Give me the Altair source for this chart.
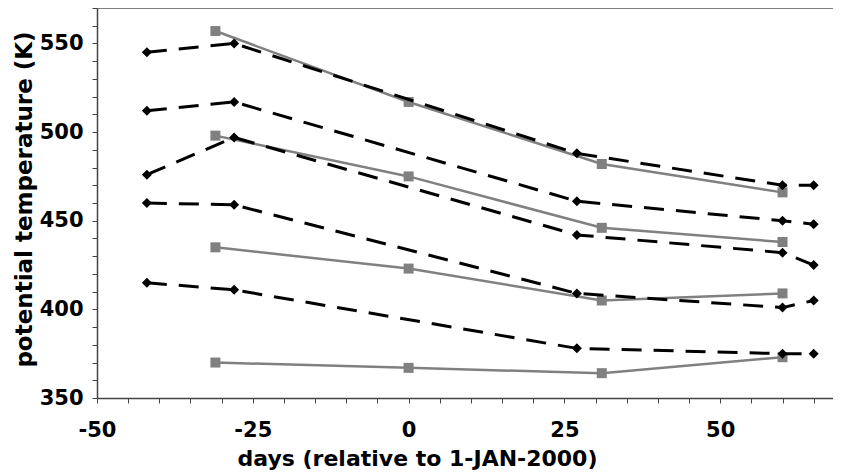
import altair as alt
import pandas as pd

# --- data ---
days_dashed = [-42, -28, 27, 60, 65]
dashed_series = {
    "d1": [545, 550, 488, 470, 470],
    "d2": [512, 517, 461, 450, 448],
    "d3": [476, 497, 442, 432, 425],
    "d4": [460, 459, 409, 401, 405],
    "d5": [415, 411, 378, 375, 375],
}
days_solid = [-31, 0, 31, 60]
solid_series = {
    "s1": [557, 517, 482, 466],
    "s2": [498, 475, 446, 438],
    "s3": [435, 423, 405, 409],
    "s4": [370, 367, 364, 373],
}
x_ticks = list(range(-50, 66, 5))
y_ticks = list(range(350, 571, 10))

rows = []
for name, vals in dashed_series.items():
    for d, v in zip(days_dashed, vals):
        rows.append({"series": name, "kind": "dashed", "day": d, "theta": v})
for name, vals in solid_series.items():
    for d, v in zip(days_solid, vals):
        rows.append({"series": name, "kind": "solid", "day": d, "theta": v})
df = pd.DataFrame(rows)

W, H = 736, 390
FONT = "DejaVu Sans"

xscale = alt.Scale(domain=[-50, 68.1], nice=False, zero=False)
yscale = alt.Scale(domain=[350, 570], nice=False, zero=False)

xaxis = alt.Axis(
    values=x_ticks, tickCount=200,
    labelExpr="datum.value % 25 == 0 ? toString(datum.value) : ''",
    labelOverlap=False, labelBound=False, labelFlush=False,
    grid=False, tickSize=5, tickColor="#444", domainColor="#444", domainWidth=1.5,
    labelFont=FONT, labelFontSize=21, labelFontWeight="bold", labelColor="black",
    labelPadding=16,
    title="days (relative to 1-JAN-2000)", titleFont=FONT, titleFontSize=22,
    titleFontWeight="bold", titleColor="black",
    titleX=320, titleY=67, titleBaseline="alphabetic",
)
yaxis = alt.Axis(
    values=y_ticks, tickCount=200,
    labelExpr="datum.value % 50 == 0 ? toString(datum.value) : ''",
    labelOverlap=False, labelBound=False, labelFlush=False,
    grid=False, tickSize=5, tickColor="#444", domainColor="#444", domainWidth=1.5,
    labelFont=FONT, labelFontSize=21, labelFontWeight="bold", labelColor="black",
    labelPadding=9,
    title="potential temperature (K)", titleFont=FONT, titleFontSize=23,
    titleFontWeight="bold", titleColor="black",
    titleX=-66, titleY=191, titleBaseline="alphabetic",
)

solid = df[df.kind == "solid"]
dashed = df[df.kind == "dashed"]

solid_line = alt.Chart(solid).mark_line(color="#808080", strokeWidth=2.5).encode(
    x=alt.X("day:Q", scale=xscale, axis=xaxis),
    y=alt.Y("theta:Q", scale=yscale, axis=yaxis),
    detail="series:N",
)
solid_pts = alt.Chart(solid).mark_point(
    shape="square", filled=True, size=100, color="#808080", opacity=1
).encode(x="day:Q", y="theta:Q")

dashed_line = alt.Chart(dashed).mark_line(
    color="black", strokeWidth=3, strokeDash=[20, 12]
).encode(x="day:Q", y="theta:Q", detail="series:N")
dashed_pts = alt.Chart(dashed).mark_point(
    shape="diamond", filled=True, size=100, color="black", opacity=1
).encode(x="day:Q", y="theta:Q")

top_border = alt.Chart(pd.DataFrame({"a": [0]})).mark_rule(
    color="#555", strokeWidth=1.5
).encode(y=alt.value(0), x=alt.value(0), x2=alt.value(W))

chart = alt.layer(solid_line, solid_pts, dashed_line, dashed_pts, top_border).properties(
    width=W, height=H,
    autosize=alt.AutoSizeParams(type="none"),
    padding={"left": 89, "top": 0, "right": 0, "bottom": 74},
).configure_view(strokeWidth=0)

chart.save("out.html", embed_options={"renderer": "svg", "actions": False})
